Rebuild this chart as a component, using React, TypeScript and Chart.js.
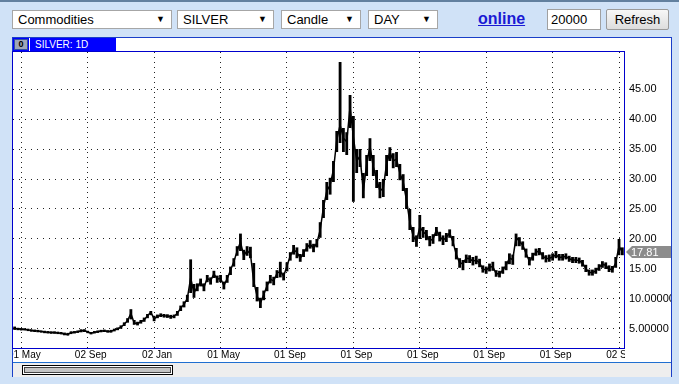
import React, { useEffect, useRef } from 'react';
import { Chart, registerables } from 'chart.js';

Chart.register(...registerables);

// ~monthly candles of SILVER (close / low / high)
const closes = [
  5.1, 5.0, 4.95, 4.95, 4.85, 4.75, 4.7, 4.65, 4.6, 4.5,
  4.45, 4.4, 4.4, 4.35, 4.3, 4.15, 4.1, 4.4, 4.45, 4.55,
  4.7, 4.75, 4.5, 4.3, 4.45, 4.55, 4.65, 4.7, 4.6, 4.6,
  4.85, 5.0, 5.3, 5.8, 6.4, 7.6, 6.0, 5.9, 6.2, 6.5,
  7.2, 7.8, 6.7, 7.1, 7.3, 7.2, 7.15, 7.05, 7.1, 7.6,
  8.5, 9.1, 10.1, 13.5, 11.0, 12.0, 12.8, 11.9, 13.5, 13.0,
  14.2, 13.3, 13.45, 12.2, 13.4, 14.8, 16.2, 18.0, 19.5, 17.2,
  18.1, 17.5, 12.9, 10.5, 9.3, 10.7, 12.2, 13.3, 13.0, 14.3,
  14.6, 13.8, 15.5, 17.2, 18.2, 17.8, 16.8, 17.6, 18.6, 19.1,
  18.5, 19.3, 21.5, 25.3, 28.0, 29.0, 31.5, 36.5, 39.0, 36.8,
  36.2, 42.0, 37.0, 33.0, 33.8, 28.0, 32.5, 35.5, 32.0, 30.0,
  28.0, 28.5, 32.5, 34.5, 33.0, 33.3, 31.0, 29.5, 26.5, 22.8,
  20.5, 19.6, 22.0, 21.2, 20.7, 19.7, 20.0, 21.5, 20.4, 19.8,
  20.3, 21.0, 19.5, 17.4, 16.0, 15.9, 16.8, 16.7, 16.3, 16.5,
  16.0, 15.0, 14.8, 15.3, 15.4, 14.2, 14.2, 14.8, 15.6, 16.8,
  16.6, 20.3, 19.6, 19.0, 17.6, 16.3, 17.1, 17.8, 18.0, 17.2,
  16.7, 16.8, 17.0, 17.4, 16.9, 17.0, 17.1, 16.7, 16.5, 16.5,
  16.4, 16.0, 15.1, 14.4, 14.4, 14.7, 15.3, 15.8, 15.6, 15.0,
  14.9, 16.0, 18.8, 17.81,
];

const lows = [
  4.85, 4.8, 4.75, 4.75, 4.65, 4.55, 4.5, 4.45, 4.4, 4.3,
  4.25, 4.2, 4.2, 4.15, 4.1, 3.95, 3.9, 4.15, 4.25, 4.35,
  4.45, 4.5, 4.3, 4.1, 4.25, 4.35, 4.45, 4.5, 4.4, 4.4,
  4.6, 4.8, 5.05, 5.5, 6.05, 6.6, 5.7, 5.6, 5.9, 6.2,
  6.8, 7.3, 6.3, 6.8, 7.0, 6.9, 6.85, 6.7, 6.8, 7.2,
  8.0, 8.6, 9.5, 11.0, 10.2, 11.3, 12.1, 11.3, 12.8, 12.4,
  13.5, 12.7, 12.8, 11.6, 12.7, 14.0, 15.4, 17.2, 18.0, 16.5,
  17.2, 16.8, 12.0, 9.6, 8.5, 9.8, 11.3, 12.6, 12.3, 13.5,
  13.6, 13.1, 14.6, 16.4, 17.4, 16.8, 16.2, 17.0, 17.9, 18.4,
  17.8, 18.6, 20.2, 23.5, 26.5, 27.4, 29.5, 34.5, 36.0, 34.5,
  34.0, 38.5, 26.2, 31.0, 32.0, 26.8, 30.5, 33.0, 30.5, 28.5,
  26.8, 27.0, 30.5, 33.0, 31.8, 32.0, 29.8, 28.0, 25.0, 21.5,
  19.5, 18.7, 20.0, 20.2, 19.8, 18.8, 19.2, 20.5, 19.6, 19.0,
  19.5, 20.2, 18.8, 16.6, 15.2, 14.8, 16.0, 16.0, 15.6, 15.8,
  15.3, 14.4, 14.2, 14.6, 14.7, 13.7, 13.6, 14.2, 14.8, 15.8,
  15.7, 18.8, 18.8, 18.2, 16.9, 15.6, 16.4, 17.2, 17.3, 16.6,
  16.1, 16.2, 16.4, 16.8, 16.4, 16.4, 16.6, 16.2, 16.0, 16.0,
  15.9, 15.4, 14.5, 13.9, 13.9, 14.2, 14.7, 15.2, 15.0, 14.5,
  14.4, 15.2, 17.3, 17.3,
];

const highs = [
  5.4, 5.2, 5.15, 5.1, 5.05, 4.95, 4.9, 4.85, 4.75, 4.7,
  4.65, 4.6, 4.6, 4.55, 4.5, 4.4, 4.35, 4.6, 4.65, 4.75,
  4.95, 4.95, 4.7, 4.5, 4.65, 4.75, 4.85, 4.9, 4.8, 4.85,
  5.05, 5.25, 5.6, 6.1, 6.8, 8.3, 6.5, 6.2, 6.5, 6.9,
  7.5, 8.0, 7.2, 7.4, 7.6, 7.5, 7.45, 7.35, 7.4, 8.0,
  8.9, 9.6, 10.7, 16.6, 12.5, 12.6, 13.4, 12.6, 14.0, 13.6,
  14.7, 13.9, 14.0, 12.9, 14.0, 15.4, 16.8, 18.8, 20.9, 18.2,
  18.8, 18.7, 16.0, 12.0, 10.2, 11.4, 12.9, 14.0, 13.7, 14.8,
  16.2, 14.4, 16.1, 17.8, 19.0, 18.6, 17.5, 18.3, 19.3, 19.8,
  19.2, 20.0, 22.8, 26.5, 29.5, 30.2, 33.0, 38.0, 49.5, 38.5,
  37.8, 44.0, 40.5, 35.0, 35.0, 31.0, 34.0, 36.8, 34.0, 31.5,
  29.5, 30.0, 34.0, 35.3, 34.3, 34.5, 32.5, 30.8, 28.5, 25.0,
  22.0, 20.6, 24.0, 22.0, 21.5, 20.5, 20.8, 22.0, 21.2, 20.6,
  21.0, 21.6, 20.5, 18.5, 16.8, 16.5, 17.4, 17.3, 17.0, 17.2,
  16.7, 15.6, 15.4, 15.9, 16.2, 14.8, 14.7, 15.4, 16.3, 17.6,
  17.4, 20.9, 20.3, 19.6, 18.4, 17.0, 17.7, 18.4, 18.5, 17.8,
  17.3, 17.4, 17.6, 18.0, 17.5, 17.5, 17.6, 17.2, 17.0, 17.0,
  16.9, 16.5, 15.7, 14.9, 14.9, 15.2, 15.8, 16.3, 16.1, 15.6,
  15.5, 17.0, 20.0, 18.6,
];

const xTickIndex = [2, 22, 42, 62, 82, 102, 122, 142, 162, 182];
const xTickLabels = ['01 May', '02 Sep', '02 Jan', '01 May', '01 Sep', '01 Sep', '01 Sep', '01 Sep', '01 Sep', '02 Sep'];
const yTickValues = [5, 10, 15, 20, 25, 30, 35, 40, 45];
const yTickLabels = ['5.00000', '10.00000', '15.00', '20.00', '25.00', '30.00', '35.00', '40.00', '45.00'];
const Y_MIN = 1.83;
const Y_MAX = 51.17;
const lastPriceText = '17.81';

const FONT = '"Liberation Sans", Arial, sans-serif';

const overlayPlugin = {
  id: 'overlay',
  afterDraw(chart: any) {
    const { ctx, chartArea, scales } = chart;
    const xs = scales.x;
    const ys = scales.y;
    // x labels, clipped to plot width
    ctx.save();
    ctx.beginPath();
    ctx.rect(chartArea.left, chartArea.bottom + 1, chartArea.right - chartArea.left + 1, 20);
    ctx.clip();
    ctx.font = `10px ${FONT}`;
    ctx.fillStyle = '#000';
    ctx.textAlign = 'center';
    ctx.textBaseline = 'top';
    xTickIndex.forEach((idx, k) => {
      ctx.fillText(xTickLabels[k], xs.getPixelForValue(idx) + 3, chartArea.bottom + 2);
    });
    ctx.restore();

    // plot border
    ctx.save();
    ctx.strokeStyle = '#0000cc';
    ctx.lineWidth = 1;
    const l = Math.round(chartArea.left) - 0.5;
    const r = Math.round(chartArea.right) + 0.5;
    const t = Math.round(chartArea.top) - 0.5;
    const b = Math.round(chartArea.bottom) + 0.5;
    ctx.strokeRect(l, t, r - l, b - t);
    ctx.restore();

    // last price tag
    const last = closes[closes.length - 1];
    const py = Math.round(ys.getPixelForValue(last));
    const x0 = Math.round(chartArea.right) + 2;
    ctx.save();
    ctx.fillStyle = '#8c8c8c';
    ctx.beginPath();
    ctx.moveTo(x0, py);
    ctx.lineTo(x0 + 6, py - 6);
    ctx.lineTo(x0 + 46, py - 6);
    ctx.lineTo(x0 + 46, py + 6);
    ctx.lineTo(x0 + 6, py + 6);
    ctx.closePath();
    ctx.fill();
    ctx.fillStyle = '#fff';
    ctx.font = `11px ${FONT}`;
    ctx.textAlign = 'left';
    ctx.textBaseline = 'middle';
    ctx.fillText(lastPriceText, x0 + 5, py + 0.5);
    ctx.restore();
  },
};

function ChartPanel() {
  const ref = useRef<HTMLCanvasElement | null>(null);
  useEffect(() => {
    if (!ref.current) return;
    const labels = closes.map((_, i) => String(i));
    const chart = new Chart(ref.current, {
      data: {
        labels,
        datasets: [
          {
            type: 'line',
            data: closes,
            borderColor: '#000',
            borderWidth: 1.5,
            pointRadius: 0,
            tension: 0,
            order: 0,
          } as any,
          {
            type: 'bar',
            data: lows.map((lo, i) => [lo, highs[i]]),
            backgroundColor: '#000',
            borderWidth: 0,
            barPercentage: 0.85,
            categoryPercentage: 1,
            order: 1,
          } as any,
        ],
      },
      options: {
        animation: false,
        responsive: false,
        devicePixelRatio: 1,
        events: [],
        layout: { padding: { left: 2, top: 2, right: 0, bottom: 0 } },
        plugins: { legend: { display: false }, tooltip: { enabled: false } },
        scales: {
          x: {
            type: 'category',
            offset: true,
            grid: { display: true, color: '#222', lineWidth: 1, drawTicks: false, offset: false },
            border: { display: false, dash: [1, 4] },
            ticks: { display: false },
            afterBuildTicks: (s: any) => {
              s.ticks = xTickIndex.map((v) => ({ value: v }));
            },
            afterFit: (s: any) => {
              s.height = 13;
              s.paddingLeft = 0;
              s.paddingRight = 0;
            },
          },
          y: {
            type: 'linear',
            position: 'right',
            min: Y_MIN,
            max: Y_MAX,
            grid: { display: true, color: '#222', lineWidth: 1, drawTicks: false },
            border: { display: false, dash: [1, 5] },
            ticks: {
              padding: 5,
              color: '#000',
              font: { size: 11, family: FONT },
              callback: (v: any) => {
                const k = yTickValues.indexOf(Number(v));
                return k >= 0 ? yTickLabels[k] : '';
              },
            },
            afterBuildTicks: (s: any) => {
              s.ticks = yTickValues.map((v) => ({ value: v }));
            },
            afterFit: (s: any) => {
              s.width = 47;
              s.paddingTop = 0;
              s.paddingBottom = 0;
            },
          },
        },
      } as any,
      plugins: [overlayPlugin],
    });
    return () => chart.destroy();
  }, []);
  return (
    <canvas
      ref={ref}
      width={660}
      height={311}
      style={{ position: 'absolute', left: 11, top: 50, width: 660, height: 311 }}
    />
  );
}

function SelectBox(props: { left: number; width: number; text: string }) {
  return (
    <div
      style={{
        position: 'absolute',
        left: props.left,
        top: 10,
        width: props.width,
        height: 19,
        boxSizing: 'border-box',
        border: '1px solid #a6a6a6',
        background: '#fff',
        fontSize: 13,
        lineHeight: '17px',
        paddingLeft: 5,
        color: '#000',
      }}
    >
      {props.text}
      <span style={{ position: 'absolute', right: 6, top: 0, fontSize: 9, lineHeight: '17px' }}>▼</span>
    </div>
  );
}

export default function App() {
  return (
    <div
      style={{
        position: 'absolute',
        left: 0,
        top: 0,
        width: 679,
        height: 384,
        background: '#d0e2f7',
        overflow: 'hidden',
        fontFamily: FONT,
      }}
    >
      <div style={{ position: 'absolute', left: 0, top: 0, width: 679, height: 2, background: '#62809f' }} />
      <SelectBox left={12} width={160} text="Commodities" />
      <SelectBox left={177} width={97} text="SILVER" />
      <SelectBox left={281} width={80} text="Candle" />
      <SelectBox left={368} width={70} text="DAY" />
      <div
        style={{
          position: 'absolute',
          left: 478,
          top: 9,
          fontSize: 16,
          fontWeight: 'bold',
          color: '#1a1ad4',
          textDecoration: 'underline',
          lineHeight: '20px',
        }}
      >
        online
      </div>
      <div
        style={{
          position: 'absolute',
          left: 547,
          top: 9,
          width: 54,
          height: 21,
          boxSizing: 'border-box',
          border: '1px solid #a0a0a0',
          background: '#fff',
          fontSize: 13,
          lineHeight: '19px',
          paddingLeft: 3,
        }}
      >
        20000
      </div>
      <div
        style={{
          position: 'absolute',
          left: 606,
          top: 9,
          width: 63,
          height: 21,
          boxSizing: 'border-box',
          border: '1px solid #9a9a9a',
          borderRadius: 2,
          background: 'linear-gradient(#f7f7f7, #dddddd)',
          fontSize: 13,
          lineHeight: '19px',
          textAlign: 'center',
        }}
      >
        Refresh
      </div>

      {/* panel */}
      <div
        style={{
          position: 'absolute',
          left: 12,
          top: 37,
          width: 660,
          height: 340,
          boxSizing: 'border-box',
          background: '#fff',
          borderTop: '1px solid #1a3fc8',
          borderLeft: '1px solid #1a3fc8',
          borderRight: '1px solid #1a3fc8',
        }}
      />
      {/* tab */}
      <div style={{ position: 'absolute', left: 13, top: 38, width: 103, height: 13, background: '#0000ff' }} />
      <div
        style={{
          position: 'absolute',
          left: 14,
          top: 39,
          width: 14,
          height: 11,
          boxSizing: 'border-box',
          background: '#9ea6b8',
          border: '1px solid #3050a0',
          fontSize: 9,
          fontWeight: 'bold',
          lineHeight: '9px',
          textAlign: 'center',
          color: '#000',
        }}
      >
        0
      </div>
      <div style={{ position: 'absolute', left: 29, top: 38, width: 1, height: 13, background: '#fff' }} />
      <div
        style={{
          position: 'absolute',
          left: 35,
          top: 38,
          fontSize: 10,
          lineHeight: '13px',
          color: '#fff',
        }}
      >
        SILVER: 1D
      </div>

      <ChartPanel />

      {/* bottom scroll area */}
      <div
        style={{
          position: 'absolute',
          left: 13,
          top: 362,
          width: 658,
          height: 15,
          boxSizing: 'border-box',
          background: '#eeeeee',
          borderTop: '1px solid #1f6fd0',
        }}
      />
      <div
        style={{
          position: 'absolute',
          left: 22,
          top: 365,
          width: 151,
          height: 10,
          boxSizing: 'border-box',
          border: '1px solid #000',
          background: '#fff',
          padding: 1,
        }}
      >
        <div style={{ width: '100%', height: '100%', boxSizing: 'border-box', border: '1px solid #444', background: '#c4c4c4' }} />
      </div>
    </div>
  );
}
